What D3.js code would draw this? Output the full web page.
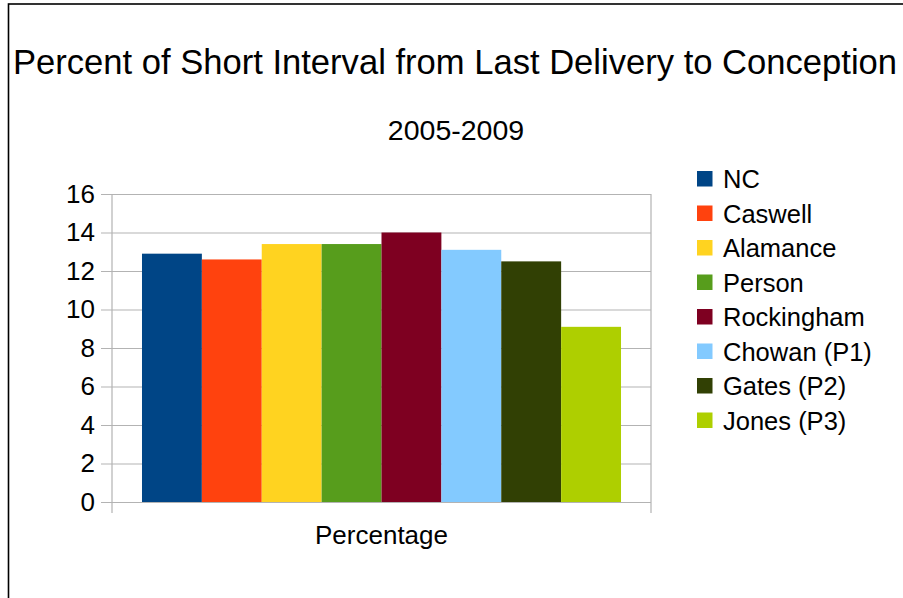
<!DOCTYPE html>
<html>
<head>
<meta charset="utf-8">
<script src="https://cdn.jsdelivr.net/npm/d3@7"></script>
<style>
  html, body { margin: 0; padding: 0; background: #fff; }
  svg { display: block; font-family: "Liberation Sans", Arial, sans-serif; }
</style>
</head>
<body>
<svg id="chart" width="903" height="598"></svg>
<script>
const categories = ["Percentage"];
const seriesNames = ["NC", "Caswell", "Alamance", "Person", "Rockingham", "Chowan (P1)", "Gates (P2)", "Jones (P3)"];
const seriesValues = [12.9, 12.6, 13.4, 13.4, 14.0, 13.1, 12.5, 9.1];
const seriesColors = ["#004586", "#ff420e", "#ffd320", "#579d1c", "#7e0021", "#83caff", "#314004", "#aecf00"];
const yTicks = [0, 2, 4, 6, 8, 10, 12, 14, 16];
const titleText = "Percent of Short Interval from Last Delivery to Conception";
const subtitleText = "2005-2009";

const svg = d3.select("#chart");
svg.append("rect").attr("width", 903).attr("height", 598).attr("fill", "#fff");

// outer frame (extends past right and bottom edges)
svg.append("rect")
  .attr("x", 8.5).attr("y", 4)
  .attr("width", 1000).attr("height", 1000)
  .attr("fill", "none").attr("stroke", "#000").attr("stroke-width", 1.6);

const plot = { left: 112, right: 651, top: 194, bottom: 502 };

const x0 = d3.scaleBand().domain(categories).range([plot.left, plot.right]).paddingInner(0).paddingOuter(0.0626);
const x1 = d3.scaleBand().domain(seriesNames).range([0, x0.bandwidth()]).padding(0);
const y = d3.scaleLinear().domain([0, 16]).range([plot.bottom, plot.top]);

// grid lines + y ticks
const yAxis = d3.axisLeft(y).tickValues(yTicks).tickSize(-(plot.right - plot.left)).tickPadding(18).tickSizeOuter(0);
const gy = svg.append("g").attr("transform", `translate(${plot.left},0)`).call(yAxis);
gy.select(".domain").remove();
gy.selectAll(".tick line").attr("stroke", "#b3b3b3").attr("stroke-width", 1.2).attr("x1", -11);
gy.selectAll(".tick text").attr("font-size", 26).attr("fill", "#000").attr("x", -17)
  .attr("font-family", "'Liberation Sans', Arial, sans-serif");

// vertical axis lines (left and right edges of plot)
[plot.left, plot.right].forEach(xx => {
  svg.append("line").attr("x1", xx).attr("x2", xx).attr("y1", plot.top).attr("y2", plot.bottom + 11)
    .attr("stroke", "#b3b3b3").attr("stroke-width", 1.2);
});

// bars
const g = svg.append("g");
categories.forEach(cat => {
  g.selectAll("rect.bar").data(seriesNames).enter().append("rect")
    .attr("class", "bar")
    .attr("x", d => x0(cat) + x1(d))
    .attr("width", x1.bandwidth())
    .attr("y", (d, i) => y(seriesValues[i]))
    .attr("height", (d, i) => y(0) - y(seriesValues[i]))
    .attr("fill", (d, i) => seriesColors[i]);
});

// x axis category label
const xAxis = d3.axisBottom(x0).tickSize(0).tickPadding(0);
const gx = svg.append("g").attr("transform", `translate(0,${plot.bottom})`).call(xAxis);
gx.select(".domain").remove();
gx.selectAll(".tick text").attr("font-size", 26).attr("fill", "#000").attr("dy", null).attr("y", 42)
  .attr("font-family", "'Liberation Sans', Arial, sans-serif");

// titles
svg.append("text").attr("x", 455).attr("y", 74).attr("text-anchor", "middle")
  .attr("font-size", 34.6).attr("fill", "#000").text(titleText);
svg.append("text").attr("x", 456).attr("y", 140).attr("text-anchor", "middle")
  .attr("font-size", 28.5).attr("fill", "#000").text(subtitleText);

// legend
const legend = svg.append("g").attr("transform", "translate(697,0)");
const rowY = d3.scalePoint().domain(seriesNames).range([188, 188 + 34.5 * 7]);
const items = legend.selectAll("g").data(seriesNames).enter().append("g")
  .attr("transform", d => `translate(0,${rowY(d)})`);
items.append("rect").attr("x", 0).attr("y", -17).attr("width", 15.5).attr("height", 15.5)
  .attr("fill", (d, i) => seriesColors[i]);
items.append("text").attr("x", 26).attr("y", 0).attr("font-size", 25.5).attr("fill", "#000").text(d => d);
</script>
</body>
</html>
